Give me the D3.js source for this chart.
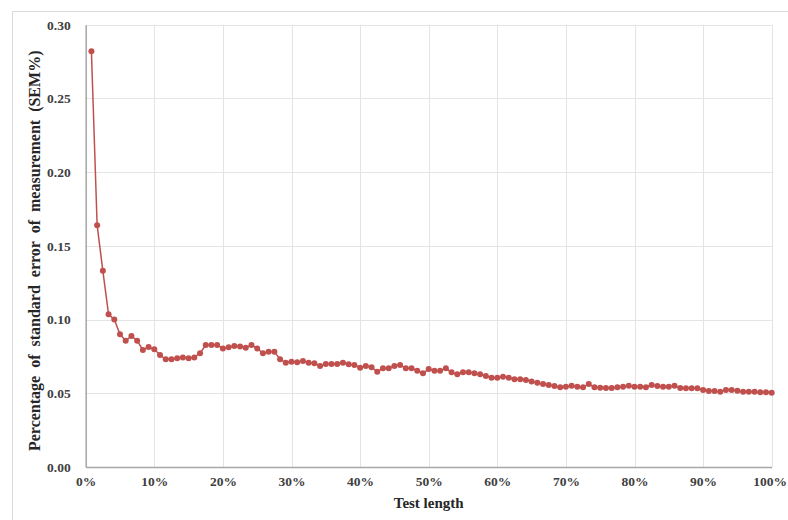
<!DOCTYPE html>
<html>
<head>
<meta charset="utf-8">
<script src="https://cdn.jsdelivr.net/npm/d3@7"></script>
<style>
  html, body { margin: 0; padding: 0; background: #fff; }
  svg { display: block; }
</style>
</head>
<body>
<svg id="chart" width="788" height="520"></svg>
<script>
// ---- data ----
const pointCount = 120; // points at k/120 of test length
const semValues = [
  0.282, 0.164, 0.133, 0.1035, 0.100, 0.090, 0.0856, 0.0888, 0.0856, 0.0793,
  0.0813, 0.0798, 0.0759, 0.0730, 0.0730, 0.0737, 0.0743, 0.0737, 0.0743, 0.0771,
  0.0827, 0.0827, 0.0827, 0.0804, 0.0811, 0.0820, 0.0816, 0.0809, 0.0827, 0.0804,
  0.0771, 0.0782, 0.0782, 0.0730, 0.0707, 0.0714, 0.0710, 0.0718, 0.0707, 0.0703,
  0.0685, 0.0698, 0.0698, 0.0698, 0.0707, 0.0696, 0.0691, 0.0673, 0.0685, 0.0676,
  0.0646, 0.0669, 0.0669, 0.0685, 0.0691, 0.0669, 0.0669, 0.0653, 0.0635, 0.0664,
  0.0653, 0.0653, 0.0669, 0.0642, 0.0628, 0.0642, 0.0642, 0.0635, 0.0628, 0.0617,
  0.0605, 0.0605, 0.0612, 0.0605, 0.0594, 0.0594, 0.0590, 0.0580, 0.0571, 0.0562,
  0.0556, 0.0549, 0.0540, 0.0544, 0.0551, 0.0544, 0.0540, 0.0562, 0.0540, 0.0537,
  0.0535, 0.0535, 0.0540, 0.0544, 0.0551, 0.0544, 0.0544, 0.0540, 0.0556, 0.0549,
  0.0544, 0.0544, 0.0551, 0.0535, 0.0533, 0.0533, 0.0533, 0.0522, 0.0515, 0.0515,
  0.0510, 0.0522, 0.0522, 0.0517, 0.0510, 0.0510, 0.0510, 0.0506, 0.0506, 0.0503
];
const testLengths = semValues.map((v, i) => (i + 1) / pointCount);
const xTicks = [0, 0.1, 0.2, 0.3, 0.4, 0.5, 0.6, 0.7, 0.8, 0.9, 1.0];
const yTicks = [0, 0.05, 0.10, 0.15, 0.20, 0.25, 0.30];
const xTitle = "Test length";
const yTitle = "Percentage of standard error of measurement (SEM%)";

// ---- layout ----
const svg = d3.select("#chart");
const pLeft = 85.7, pRight = 771.7, pTop = 24.7, pBottom = 466.9;
const x = d3.scaleLinear().domain([0, 1]).range([pLeft, pRight]);
const y = d3.scaleLinear().domain([0, 0.30]).range([pBottom, pTop]);
const fontFam = "'Liberation Serif', 'Times New Roman', serif";

// frame (partial border like the cropped reference)
svg.append("path")
  .attr("d", `M12.5,520 L12.5,11.5 L788,11.5`)
  .attr("fill", "none").attr("stroke", "#d9d9d9").attr("stroke-width", 1);

// gridlines
svg.append("g").selectAll("line").data(yTicks.filter(d => d > 0)).join("line")
  .attr("x1", pLeft).attr("x2", pRight)
  .attr("y1", d => Math.round(y(d)) + 0.5).attr("y2", d => Math.round(y(d)) + 0.5)
  .attr("stroke", "#e4e4e4").attr("stroke-width", 1);
svg.append("g").selectAll("line").data(xTicks.filter(d => d > 0)).join("line")
  .attr("y1", pTop).attr("y2", pBottom)
  .attr("x1", d => Math.round(x(d)) + 0.5).attr("x2", d => Math.round(x(d)) + 0.5)
  .attr("stroke", "#e4e4e4").attr("stroke-width", 1);

// axes
const yAxis = d3.axisLeft(y).tickValues(yTicks).tickFormat(d3.format(".2f")).tickSize(0).tickPadding(15);
const xAxis = d3.axisBottom(x).tickValues(xTicks).tickFormat(d3.format(".0%")).tickSize(0).tickPadding(10);

const gy = svg.append("g").attr("transform", `translate(${pLeft},0)`).call(yAxis);
const gx = svg.append("g").attr("transform", `translate(0,${pBottom})`).call(xAxis);
[gx, gy].forEach(g => {
  g.select(".domain").attr("stroke", "#a6a6a6").attr("stroke-width", 1.5);
  g.selectAll("text").attr("font-family", fontFam).attr("font-size", 13.5)
    .attr("fill", "#404040").attr("font-weight", "bold");
});
// keep the last x label inside the page
gx.selectAll(".tick:last-of-type text").attr("dx", -2);

// line + markers
const pts = testLengths.map((t, i) => [t, semValues[i]]);
svg.append("path")
  .datum(pts)
  .attr("fill", "none")
  .attr("stroke", "#c0504d")
  .attr("stroke-width", 1.5)
  .attr("d", d3.line().x(d => x(d[0])).y(d => y(d[1])));
svg.append("g").selectAll("circle").data(pts).join("circle")
  .attr("cx", d => x(d[0])).attr("cy", d => y(d[1])).attr("r", 3)
  .attr("fill", "#c0504d");

// titles
svg.append("text")
  .attr("x", (pLeft + pRight) / 2).attr("y", 508)
  .attr("text-anchor", "middle")
  .attr("font-family", fontFam).attr("font-size", 15).attr("font-weight", "bold")
  .attr("fill", "#262626")
  .text(xTitle);
svg.append("text")
  .attr("transform", `translate(40,${(pTop + pBottom) / 2 + 5}) rotate(-90)`)
  .attr("text-anchor", "middle")
  .attr("font-family", fontFam).attr("font-size", 16).attr("font-weight", "bold")
  .attr("fill", "#262626")
  .style("word-spacing", "4px")
  .text(yTitle);
</script>
</body>
</html>
